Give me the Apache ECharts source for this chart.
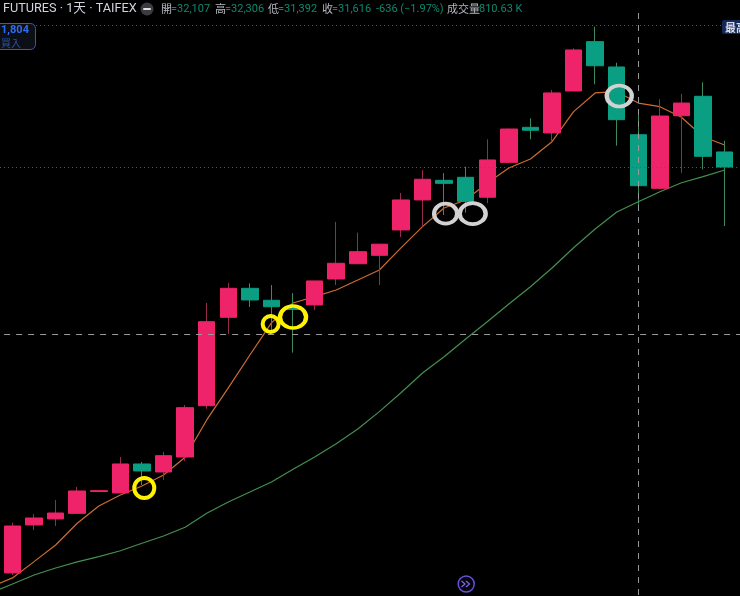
<!DOCTYPE html>
<html>
<head>
<meta charset="utf-8">
<title>FUTURES 1天 TAIFEX</title>
<script src="https://cdn.jsdelivr.net/npm/echarts@6/dist/echarts.min.js"></script>
<style>
html, body { margin: 0; padding: 0; background: #000; overflow: hidden; }
#chart { width: 740px; height: 596px; }
</style>
</head>
<body>
<div id="chart"></div>
<script>
// daily bars, first and last slots are empty so lines can run to the window edges
const slots = [ 0, 1, 2, 3, 4, 5, 6, 7, 8, 9, 10, 11, 12, 13, 14, 15, 16, 17, 18, 19, 20, 21, 22, 23, 24, 25, 26, 27, 28, 29, 30, 31, 32, 33, 34, 35 ]
const opens = [ '-', 27888, 28350, 28408, 28462, 28672, 28658, 28937, 28860, 29004, 29498, 30349, 30628, 30513, 30436, 30468, 30718, 30865, 30946, 31190, 31479, 31668, 31697, 31505, 31841, 32178, 32124, 32528, 33003, 32759, 32107, 31591, 32290, 32477, 31941, '-' ]
const closes = [ '-', 28340, 28417, 28465, 28677, 28680, 28937, 28870, 29017, 29479, 30307, 30628, 30516, 30451, 30424, 30699, 30869, 30981, 31053, 31479, 31678, 31639, 31466, 31864, 32162, 32150, 32509, 32923, 32771, 32252, 31616, 32287, 32412, 31899, 31796, '-' ]
const lows = [ '-', 27868, 28302, 28340, 28462, 28672, 28658, 28735, 28783, 28966, 29469, 30189, 30448, 30227, 30009, 30420, 30660, 30862, 30660, 31122, 31222, 31334, 31356, 31447, 31838, 32063, 32040, 32528, 32592, 32001, 31392, 31584, 31741, 31774, 31228, '-' ]
const highs = [ '-', 28372, 28456, 28590, 28716, 28680, 29004, 28956, 29053, 29505, 30487, 30680, 30677, 30660, 30583, 30699, 31267, 31164, 31055, 31546, 31767, 31738, 31799, 32063, 32165, 32265, 32538, 32939, 33147, 32800, 32306, 32448, 32499, 32612, 32049, '-' ]
const maShort = [ 27753, 27840, 27997, 28157, 28366, 28533, 28639, 28725, 28831, 29002, 29361, 29669, 29986, 30295, 30487, 30548, 30612, 30708, 30805, 31017, 31222, 31402, 31479, 31642, 31787, 31873, 32040, 32329, 32509, 32521, 32412, 32377, 32275, 32088, 32008, '-' ]
const maLong = [ 27695, 27782, 27868, 27936, 27994, 28045, 28102, 28174, 28244, 28328, 28462, 28571, 28667, 28764, 28886, 29004, 29132, 29274, 29441, 29623, 29813, 29970, 30140, 30307, 30477, 30644, 30824, 31019, 31199, 31363, 31462, 31558, 31645, 31703, 31767, '-' ]

const priceMin = 27666
const priceMax = 33404
const highestPrice = 33163
const lastPrice = 31796
const crossPrice = 30189
const crossSlot = 30
const crossTop = 33279

// hand drawn rings on the screenshot
const ringSlots = [ 7, 13, 14, 21, 22, 29 ]
const ringPrices = [ 28706, 30285, 30352, 31347, 31347, 32480 ]

const headerLabels = [ '開', '高', '低', '收' ]
const headerValues = [ '=32,107', '=32,306', '=31,392', '=31,616' ]
const headerChange = '-636 (−1.97%)'
const volumeLabel = '成交量'
const volumeValue = '810.63 K'

const PINK = '#ee2369'
const GREEN = '#0a9e83'
const PINK_WICK = '#962a50'
const GREEN_WICK = '#3f8a5c'
const HEAD_GREEN = '#0c8a70'
const HEAD_GREY = '#b4b7bf'
const CJK = '"Noto Sans CJK TC", Roboto, sans-serif'

const ringLooks = [
	{ size: [ 20, 20 ], shift: 2.3, width: 4, color: '#fff200' },
	{ size: [ 16, 16 ], shift: -0.8, width: 4, color: '#fff200' },
	{ size: [ 26, 22 ], shift: 0, width: 4, color: '#fff200' },
	{ size: [ 23, 20 ], shift: 1.5, width: 4, color: '#d2d2d2' },
	{ size: [ 26, 21 ], shift: 7, width: 4, color: '#d2d2d2' },
	{ size: [ 25, 21 ], shift: 2.5, width: 4, color: '#d2d2d2' }
]

const chart = echarts.init( document.getElementById( 'chart' ), null, { renderer: 'canvas' } )

const headText = ( x, text, fill, size, font ) => ( {
	type: 'text',
	x,
	y: 9,
	z: 20,
	style: { text, fill, font: `${ size }px ${ font }`, textVerticalAlign: 'middle' }
} )

const headerX = [ 161, 215, 268, 322 ]

const header = [
	headText( 3, 'FUTURES · 1天 · TAIFEX', '#d1d4dc', 12.7, 'Roboto, "Noto Sans CJK TC"' ),
	{ type: 'circle', z: 20, shape: { cx: 147, cy: 9, r: 6.5 }, style: { fill: '#3c3c40' } },
	{ type: 'rect', z: 21, shape: { x: 143, y: 8, width: 8, height: 2, r: 1 }, style: { fill: '#e0e0e0' } },
	...headerLabels.map( ( label, i ) => headText( headerX[ i ], label, HEAD_GREY, 11, CJK ) ),
	...headerValues.map( ( value, i ) => headText( headerX[ i ] + 10, value, HEAD_GREEN, 11, 'Roboto' ) ),
	headText( 376, headerChange, HEAD_GREEN, 11, 'Roboto' ),
	headText( 447, volumeLabel, HEAD_GREY, 11, CJK ),
	headText( 479, volumeValue, HEAD_GREEN, 11, 'Roboto' )
]

const tags = [
	{ type: 'rect', z: 20, shape: { x: -5, y: 23.5, width: 40.5, height: 26, r: 5 }, style: { fill: '#0c0f16', stroke: '#2a5bd0', lineWidth: 1 } },
	{ type: 'text', z: 21, x: 1, y: 30.5, style: { text: '1,804', fill: '#2f6df0', font: 'bold 11px Roboto', textVerticalAlign: 'middle' } },
	{ type: 'text', z: 21, x: 1, y: 43, style: { text: '買入', fill: '#2b55a8', font: `10px ${ CJK }`, textVerticalAlign: 'middle' } },
	{ type: 'rect', z: 20, shape: { x: 722, y: 20, width: 24, height: 14, r: 2 }, style: { fill: '#14295a' } },
	{ type: 'text', z: 21, x: 725, y: 27.5, style: { text: '最高', fill: '#d6dcea', font: `bold 11px ${ CJK }`, textVerticalAlign: 'middle' } }
]

const jumpIcon = [
	{ type: 'circle', z: 20, shape: { cx: 466.2, cy: 584, r: 8 }, style: { fill: '#07050f', stroke: '#6a50d8', lineWidth: 1.5 } },
	{ type: 'polyline', z: 21, shape: { points: [ [ 461.5, 581 ], [ 465, 584 ], [ 461.5, 587 ] ] }, style: { fill: 'none', stroke: '#7d68e8', lineWidth: 1.2 } },
	{ type: 'polyline', z: 21, shape: { points: [ [ 466, 581 ], [ 469.5, 584 ], [ 466, 587 ] ] }, style: { fill: 'none', stroke: '#7d68e8', lineWidth: 1.2 } }
]

const option = {
	backgroundColor: '#000',
	animation: false,
	grid: { left: -19.88, top: 0, width: 776.9, height: 596, containLabel: false, outerBoundsMode: 'none' },
	xAxis: {
		type: 'category',
		data: slots,
		boundaryGap: true,
		show: false
	},
	yAxis: {
		type: 'value',
		min: priceMin,
		max: priceMax,
		show: false,
		splitLine: { show: false }
	},
	graphic: { elements: [ ...header, ...tags, ...jumpIcon ] },
	series: [
		{
			type: 'line',
			data: maShort,
			z: 1,
			symbol: 'none',
			lineStyle: { color: '#cc6e2e', width: 1.2 }
		},
		{
			type: 'line',
			data: maLong,
			z: 1,
			symbol: 'none',
			lineStyle: { color: '#44904f', width: 1.2 }
		},
		// wicks, darker than the bodies
		{
			type: 'candlestick',
			z: 2,
			barWidth: 1,
			data: slots.map( ( _, i ) => [ opens[ i ], closes[ i ], lows[ i ], highs[ i ] ] ),
			itemStyle: { color: PINK_WICK, color0: GREEN_WICK, borderColor: PINK_WICK, borderColor0: GREEN_WICK, borderWidth: 1 }
		},
		// bodies
		{
			type: 'candlestick',
			z: 3,
			barWidth: 17,
			data: slots.map( ( _, i ) => opens[ i ] === '-'
				? [ '-', '-', '-', '-' ]
				: [ opens[ i ], closes[ i ], Math.min( opens[ i ], closes[ i ] ), Math.max( opens[ i ], closes[ i ] ) ] ),
			itemStyle: { color: PINK, color0: GREEN, borderColor: PINK, borderColor0: GREEN, borderWidth: 1 }
		},
		// price and crosshair lines
		{
			type: 'line',
			data: [],
			z: 4,
			markLine: {
				silent: true,
				symbol: 'none',
				label: { show: false },
				emphasis: { disabled: true },
				data: [
					{ yAxis: highestPrice, lineStyle: { color: '#5e6064', type: [ 1, 3 ], width: 1 } },
					{ yAxis: lastPrice, lineStyle: { color: '#1f7d62', type: [ 1, 3 ], width: 1 } },
					{ yAxis: crossPrice, lineStyle: { color: '#9a9a9a', type: [ 6, 6 ], width: 1 } },
					[
						{ coord: [ crossSlot, crossTop ], lineStyle: { color: '#9a9a9a', type: [ 6, 6 ], width: 1 } },
						{ coord: [ crossSlot, priceMin ] }
					]
				]
			}
		},
		{
			type: 'scatter',
			z: 5,
			data: ringSlots.map( ( slot, i ) => ( {
				value: [ slot, ringPrices[ i ] ],
				symbolSize: ringLooks[ i ].size,
				symbolOffset: [ ringLooks[ i ].shift, 0 ],
				itemStyle: { color: 'transparent', borderColor: ringLooks[ i ].color, borderWidth: ringLooks[ i ].width, opacity: 1 }
			} ) )
		}
	]
}

chart.setOption( option )
</script>
</body>
</html>
